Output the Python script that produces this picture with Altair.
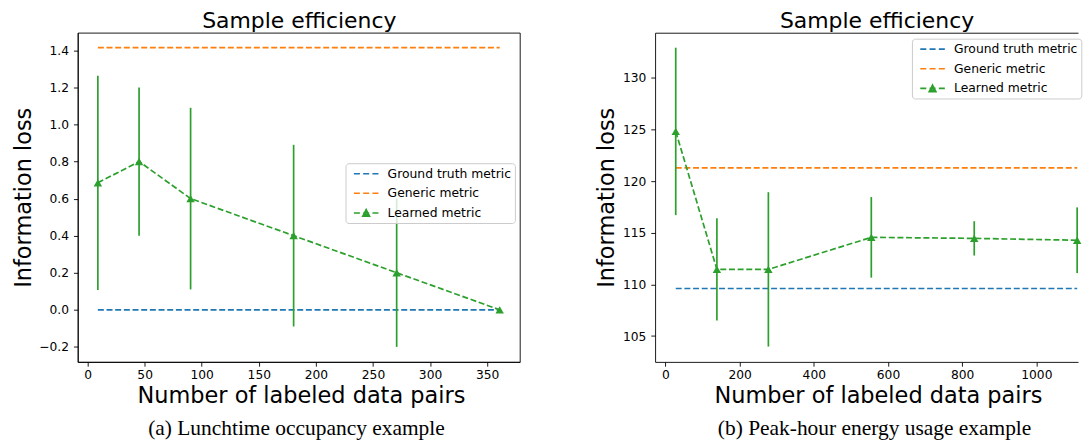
import altair as alt
import pandas as pd

# ---------------- data ----------------
SERIES = ["Ground truth metric", "Generic metric", "Learned metric"]
COLORS = ["#1f77b4", "#ff7f0e", "#2ca02c"]

# (a) Lunchtime occupancy example
a_x = [9.025, 45.125, 90.25, 180.5, 270.75, 361.0]
a_learned = [0.685, 0.80, 0.60, 0.40, 0.20, 0.0]
a_err = [0.578, 0.40, 0.49, 0.49, 0.40, 0.0]
a_ground = 0.0
a_generic = 1.414
a_xticks = [0, 50, 100, 150, 200, 250, 300, 350]
a_yticks = [-0.2, 0.0, 0.2, 0.4, 0.6, 0.8, 1.0, 1.2, 1.4]
a_caption = "(a) Lunchtime occupancy example"

# (b) Peak-hour energy usage example
b_x = [27.75, 138.75, 277.5, 555.0, 832.5, 1110.0]
b_learned = [124.8, 111.45, 111.45, 114.55, 114.45, 114.27]
b_err = [8.1, 4.95, 7.47, 3.9, 1.66, 3.18]
b_ground = 109.6
b_generic = 121.27
b_xticks = [0, 200, 400, 600, 800, 1000]
b_yticks = [105, 110, 115, 120, 125, 130]
b_caption = "(b) Peak-hour energy usage example"

TITLE = "Sample efficiency"
XTITLE = "Number of labeled data pairs"
YTITLE = "Information loss"

# ---------------- styling ----------------
FONT = "DejaVu Sans"
LW = 1.7
DASH = [6, 2.7]
# legend handles (unit = half the symbol size): dashed line, and dashed line with a triangle
DASH_PATH = "M-1.88,0H-0.96M-0.46,0H0.46M0.96,0H1.88"
TRI_PATH = (DASH_PATH + "M0,-0.52L0.52,0.5L-0.52,0.5Z"
            "M0,-0.25L0.26,0.3L-0.26,0.3Z")
PATHS = [DASH_PATH, DASH_PATH, TRI_PATH]


def panel(xs, learned, err, ground, generic, xdom, ydom, xticks, yticks,
          yfmt, width, height, legxy, box_top, title_x, xtitle_x, caption,
          caption_x):
    df = pd.DataFrame({
        "x": xs,
        "y": learned,
        "lo": [m - e for m, e in zip(learned, err)],
        "hi": [m + e for m, e in zip(learned, err)],
        "series": SERIES[2],
    })
    ref = pd.DataFrame({
        "x": [xs[0], xs[-1]],
        "ground": [ground, ground],
        "generic": [generic, generic],
    })
    xs_ = alt.Scale(domain=xdom, nice=False, zero=False)
    ys_ = alt.Scale(domain=ydom, nice=False, zero=False)

    # bottom axis with ticks and its title
    xaxis = alt.Axis(values=xticks, format="d", title=XTITLE, titlePadding=4,
                     labelPadding=2.5, titleX=xtitle_x)
    # top edge: carries the panel title (and the frame line on panel b)
    top_axis = alt.Axis(orient="top", labels=False, ticks=False, domain=box_top,
                        title=TITLE, titleFont=FONT, titleFontSize=22,
                        titlePadding=0.3, titleX=title_x)
    # a second bottom axis carries the sub-figure caption
    cap_axis = alt.Axis(orient="bottom", labels=False, ticks=False, domain=False,
                        title=caption, titleFont="Liberation Serif",
                        titleFontSize=21.5, titlePadding=55.5, titleX=caption_x)
    yaxis = alt.Axis(values=yticks, format=yfmt, title=YTITLE,
                     titlePadding=3.5, labelPadding=5)

    ground_l = alt.Chart(ref).mark_line(
        color=COLORS[0], strokeDash=DASH, strokeWidth=LW
    ).encode(
        x=alt.X("x:Q", scale=xs_, axis=xaxis),
        y=alt.Y("ground:Q", scale=ys_, axis=yaxis),
    )
    generic_l = alt.Chart(ref).mark_line(
        color=COLORS[1], strokeDash=DASH, strokeWidth=LW
    ).encode(x=alt.X("x:Q", scale=xs_, axis=top_axis),
             y=alt.Y("generic:Q", scale=ys_, axis=None))

    bx = alt.X("x:Q", scale=xs_, axis=None)
    err_r = alt.Chart(df).mark_rule(color=COLORS[2], strokeWidth=LW).encode(
        x=alt.X("x:Q", scale=xs_, axis=cap_axis),
        y=alt.Y("lo:Q", scale=ys_, axis=None), y2="hi:Q")
    line = alt.Chart(df).mark_line(
        color=COLORS[2], strokeDash=DASH, strokeWidth=LW
    ).encode(x=bx, y=alt.Y("y:Q", scale=ys_, axis=None))

    leg = alt.Legend(
        title=None, orient="none", legendX=legxy[0], legendY=legxy[1],
        fillColor="rgba(255,255,255,0.8)", strokeColor="#cccccc",
        cornerRadius=3, padding=3, labelFont=FONT, labelFontSize=12.4,
        labelColor="black", symbolOffset=10.2, labelOffset=14, rowPadding=5.7,
        symbolSize=172, symbolStrokeWidth=1.6, symbolOpacity=1,
    )
    legend_layer = alt.Chart(df).mark_point(
        filled=False, opacity=0, strokeWidth=1.6
    ).encode(
        x=bx, y=alt.Y("y:Q", scale=ys_, axis=None),
        color=alt.Color("series:N", scale=alt.Scale(domain=SERIES, range=COLORS), legend=leg),
        shape=alt.Shape("series:N", scale=alt.Scale(domain=SERIES, range=PATHS), legend=leg),
    )
    markers = alt.Chart(df).mark_point(
        shape="triangle-up", filled=True, size=72, color=COLORS[2], opacity=1
    ).encode(x=bx, y=alt.Y("y:Q", scale=ys_, axis=None))

    ch = alt.layer(ground_l, generic_l, err_r, line, legend_layer, markers).properties(
        width=width, height=height,
    ).resolve_axis(x="independent", y="independent")
    if box_top:
        # panel (b): the frame runs past the right edge, so only axis lines show
        ch = ch.properties(view=alt.ViewBackground(stroke="transparent"))
    return ch


left = panel(a_x, a_learned, a_err, a_ground, a_generic,
             [-8.6, 378.6], [-0.281, 1.495], a_xticks, a_yticks, ".1f",
             443.7, 330.4, (268.8, 131), False, 221.9, 224, a_caption, 219)
right = panel(b_x, b_learned, b_err, b_ground, b_generic,
              [-27.9, 1112.3], [102.5, 134.35], b_xticks, b_yticks, "d",
              424.5, 330.4, (257.8, 6), True, 222.3, 223.7, b_caption, 219.8)

chart = alt.hconcat(left, right, spacing=74.5).resolve_scale(
    color="independent", shape="independent"
).resolve_legend(
    color="independent", shape="independent"
).properties(
    padding={"left": 3, "top": 0, "right": 0, "bottom": 0}
).configure_view(stroke="black", strokeWidth=0.9).configure_axis(
    labelFont=FONT, labelFontSize=12.3, labelColor="black",
    titleFont=FONT, titleFontSize=22.5, titleFontWeight="normal", titleColor="black",
    domainColor="black", domainWidth=0.9, tickColor="black", tickWidth=0.9,
    tickSize=4.3, grid=False,
).configure_concat(spacing=74.5)

chart.save("out.html", embed_options={"renderer": "svg", "actions": False})
